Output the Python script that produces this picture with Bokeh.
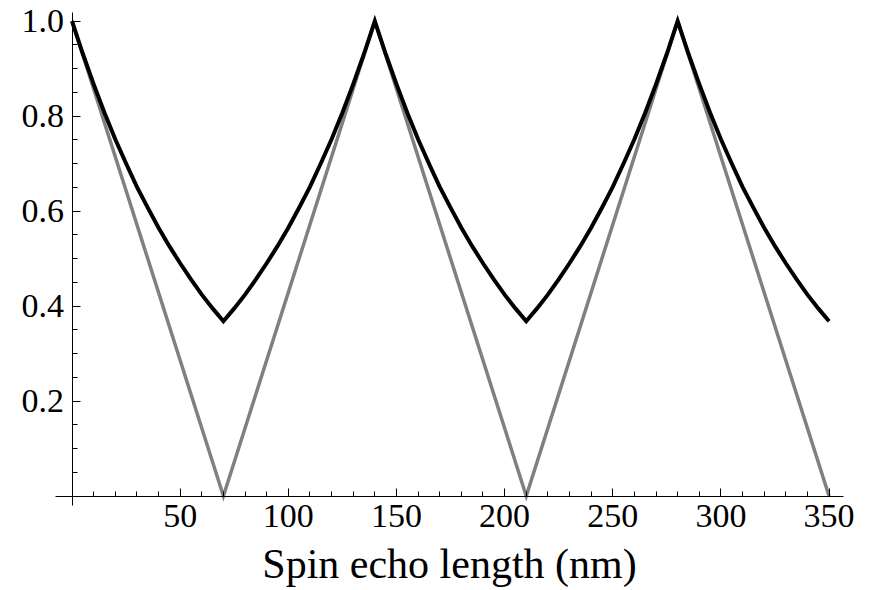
from bokeh.plotting import figure
from bokeh.models import LinearAxis, FixedTicker, Range1d, PrintfTickFormatter
from bokeh.embed import file_html
from bokeh.resources import INLINE

# ---- data ----
x_length = [0, 5, 10, 15, 20, 25, 30, 35, 40, 45, 50, 55, 60, 65, 70,
            75, 80, 85, 90, 95, 100, 105, 110, 115, 120, 125, 130, 135, 140,
            145, 150, 155, 160, 165, 170, 175, 180, 185, 190, 195, 200, 205, 210,
            215, 220, 225, 230, 235, 240, 245, 250, 255, 260, 265, 270, 275, 280,
            285, 290, 295, 300, 305, 310, 315, 320, 325, 330, 335, 340, 345, 350]
echo_exp = [1.000, 0.931, 0.867, 0.807, 0.751, 0.700, 0.651, 0.607, 0.565, 0.526, 0.490, 0.456, 0.424, 0.395, 0.368,
            0.395, 0.424, 0.456, 0.490, 0.526, 0.565, 0.607, 0.651, 0.700, 0.751, 0.807, 0.867, 0.931, 1.000,
            0.931, 0.867, 0.807, 0.751, 0.700, 0.651, 0.607, 0.565, 0.526, 0.490, 0.456, 0.424, 0.395, 0.368,
            0.395, 0.424, 0.456, 0.490, 0.526, 0.565, 0.607, 0.651, 0.700, 0.751, 0.807, 0.867, 0.931, 1.000,
            0.931, 0.867, 0.807, 0.751, 0.700, 0.651, 0.607, 0.565, 0.526, 0.490, 0.456, 0.424, 0.395, 0.368]
x_tri = [0, 70, 140, 210, 280, 350]
echo_tri = [1.0, 0.0, 1.0, 0.0, 1.0, 0.0]

x_major = [50, 100, 150, 200, 250, 300, 350]
x_minor = [10, 20, 30, 40, 60, 70, 80, 90, 110, 120, 130, 140, 160, 170, 180, 190,
           210, 220, 230, 240, 260, 270, 280, 290, 310, 320, 330, 340]
y_major = [0.2, 0.4, 0.6, 0.8, 1.0]
y_minor = [0.05, 0.1, 0.15, 0.25, 0.3, 0.35, 0.45, 0.5, 0.55, 0.65, 0.7, 0.75, 0.85, 0.9, 0.95]
x_label = "Spin echo length (nm)"

FONT = "Liberation Serif"

p = figure(width=870, height=590, output_backend="svg", toolbar_location=None,
           x_axis_type=None, y_axis_type=None,
           x_range=Range1d(-33.06, 369.16), y_range=Range1d(-0.1989, 1.0432),
           min_border_left=0, min_border_right=0, min_border_top=0, min_border_bottom=0)
p.outline_line_color = None
p.background_fill_color = "white"
p.border_fill_color = "white"
p.xgrid.visible = False
p.ygrid.visible = False

p.line(x_tri, echo_tri, line_color="#808080", line_width=3.5, line_join="miter")
p.line(x_length, echo_exp, line_color="black", line_width=4, line_join="miter")

xa = LinearAxis(fixed_location=0, bounds=(-7.63, 356.7),
                ticker=FixedTicker(ticks=x_major, minor_ticks=x_minor),
                formatter=PrintfTickFormatter(format="%d"))
ya = LinearAxis(fixed_location=0, bounds=(-0.02, 1.018),
                ticker=FixedTicker(ticks=y_major, minor_ticks=y_minor),
                formatter=PrintfTickFormatter(format="%.1f"))
for ax in (xa, ya):
    ax.axis_line_color = "black"
    ax.axis_line_width = 1
    ax.major_tick_line_color = "black"
    ax.minor_tick_line_color = "black"
    ax.major_tick_in = 8
    ax.major_tick_out = 0
    ax.minor_tick_in = 5
    ax.minor_tick_out = 0
    ax.major_label_text_font = FONT
    ax.major_label_text_font_size = "34px"
    ax.major_label_text_color = "black"
xa.major_label_standoff = 9
ya.major_label_standoff = 8
xa.axis_label = x_label
xa.axis_label_text_font = FONT
xa.axis_label_text_font_size = "42px"
xa.axis_label_text_font_style = "normal"
xa.axis_label_text_color = "black"
xa.axis_label_standoff = 10
p.add_layout(xa, "below")
p.add_layout(ya, "left")

open("out.html", "w").write(file_html(p, INLINE))
